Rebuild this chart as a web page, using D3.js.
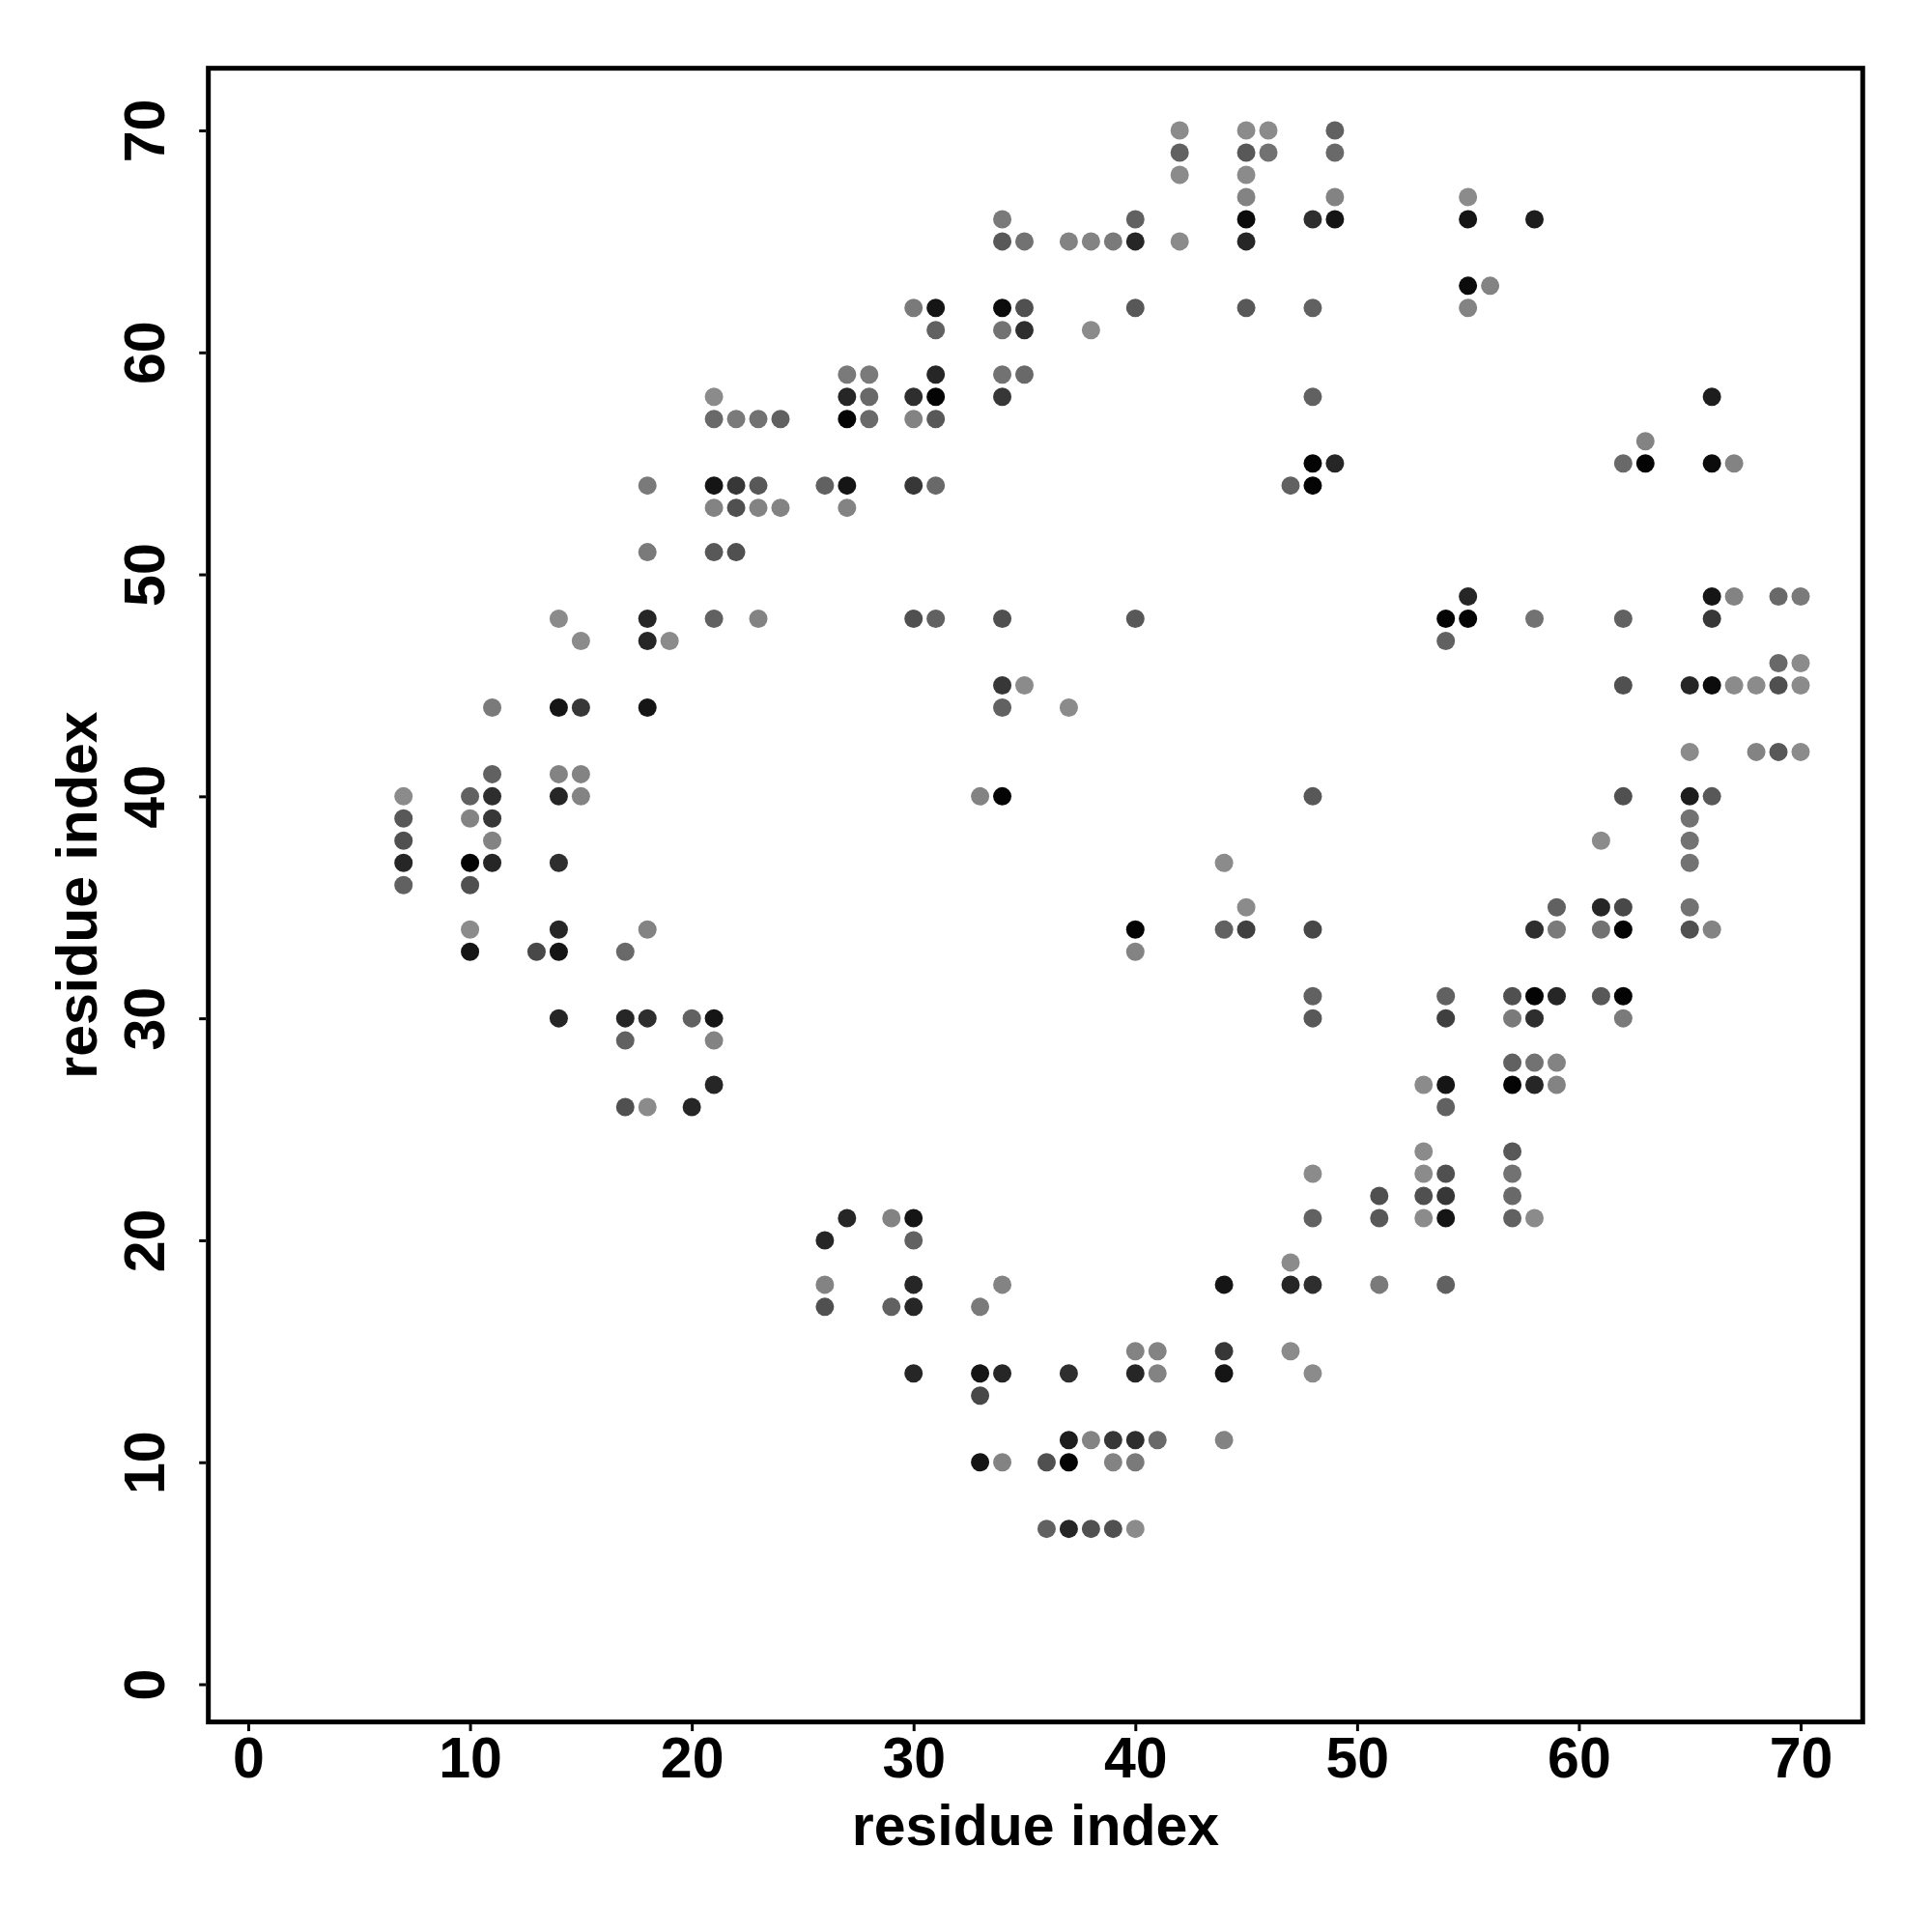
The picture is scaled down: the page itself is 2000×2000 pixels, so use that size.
<!DOCTYPE html>
<html>
<head>
<meta charset="utf-8">
<script src="https://cdn.jsdelivr.net/npm/d3@7"></script>
<style>
  html, body { margin: 0; padding: 0; background: #ffffff; }
  svg { display: block; }
</style>
</head>
<body>
<script>
// ---------------- data ----------------
const xTicks = [0, 10, 20, 30, 40, 50, 60, 70];
const yTicks = [0, 10, 20, 30, 40, 50, 60, 70];
const xTitle = "residue index";
const yTitle = "residue index";

// contact points: residue i, residue j, contact strength (darker = stronger)
const resI = [
  7,7,7,7,7,
  10,10,10,10,10,10,
  11,11,11,11,11,11,
  13,
  14,14,14,14,14,14,14,14,
  15,15,15,15,
  17,17,17,17,
  18,18,18,18,18,18,18,18,
  19,
  20,20,
  21,21,21,21,21,21,21,21,21,
  22,22,22,22,
  23,23,23,23,
  24,24,
  26,26,26,26,
  27,27,27,27,27,27,
  28,28,28,
  29,29,
  30,30,30,30,30,30,30,30,30,30,
  31,31,31,31,31,31,31,
  33,33,33,33,33,
  34,34,34,34,34,34,34,34,34,34,34,34,34,
  35,35,35,35,35,
  36,36,
  37,37,37,37,37,37,
  38,38,38,38,
  39,39,39,39,
  40,40,40,40,40,40,40,40,40,40,40,
  41,41,41,
  42,42,42,42,
  44,44,44,44,44,44,
  45,45,45,45,45,45,45,45,45,
  46,46,
  47,47,47,47,
  48,48,48,48,48,48,48,48,48,48,48,48,48,
  49,49,49,49,49,
  51,51,51,
  53,53,53,53,53,
  54,54,54,54,54,54,54,54,54,54,
  55,55,55,55,55,55,
  56,
  57,57,57,57,57,57,57,57,
  58,58,58,58,58,58,58,58,
  59,59,59,59,59,
  61,61,61,61,
  62,62,62,62,62,62,62,62,
  63,63,
  65,65,65,65,65,65,65,65,
  66,66,66,66,66,66,66,
  67,67,67,
  68,68,
  69,69,69,69,
  70,70,70,70
];
const resJ = [
  40,39,38,37,36,
  40,39,37,36,34,33,
  44,41,40,39,38,37,
  33,
  48,44,41,40,37,34,33,30,
  47,44,41,40,
  33,30,29,26,
  54,51,48,47,44,34,30,26,
  47,
  30,26,
  58,57,54,53,51,48,30,29,27,
  57,54,53,51,
  57,54,53,48,
  57,53,
  54,20,18,17,
  59,58,57,54,53,21,
  59,58,57,
  21,17,
  62,58,57,54,48,21,20,18,17,14,
  62,61,59,58,57,54,48,
  40,17,14,13,10,
  66,65,62,61,59,58,48,45,44,40,18,14,10,
  65,62,61,59,45,
  10,7,
  65,44,14,11,10,7,
  65,61,11,7,
  65,11,10,7,
  66,65,62,48,34,33,15,14,11,10,7,
  15,14,11,
  70,69,68,65,
  37,34,18,15,14,11,
  70,69,68,67,66,65,62,35,34,
  70,69,
  54,19,18,15,
  66,62,58,55,54,40,34,31,30,23,21,18,14,
  70,69,67,66,55,
  22,21,18,
  27,24,23,22,21,
  48,47,31,30,27,26,23,22,21,18,
  67,66,63,62,49,48,
  63,
  31,30,28,27,24,23,22,21,
  66,48,34,31,30,28,27,21,
  35,34,31,28,27,
  38,35,34,31,
  55,48,45,40,35,34,31,30,
  56,55,
  45,42,40,39,38,37,35,34,
  58,55,49,48,45,40,34,
  55,49,45,
  45,42,
  49,46,45,42,
  49,46,45,42
];
const strength = [
  .2,.5,.55,.8,.45,
  .45,.25,1,.55,.2,.9,
  .3,.45,.75,.7,.25,.8,
  .6,
  .2,.9,.25,.8,.75,.8,.9,.8,
  .2,.7,.25,.25,
  .4,.8,.45,.55,
  .3,.3,.8,.8,.9,.25,.75,.2,
  .2,
  .45,.8,
  .2,.4,.9,.25,.5,.45,.9,.25,.8,
  .3,.7,.55,.55,
  .35,.5,.25,.25,
  .45,.25,
  .45,.8,.25,.55,
  .3,.8,1,.9,.25,.8,
  .3,.4,.4,
  .25,.45,
  .3,.75,.25,.7,.55,.9,.45,.8,.8,.8,
  .9,.45,.8,1,.5,.4,.45,
  .25,.3,.9,.6,.9,
  .3,.5,.95,.35,.35,.7,.55,.7,.45,1,.25,.8,.25,
  .35,.55,.75,.4,.2,
  .55,.45,
  .25,.2,.75,.85,1,.8,
  .25,.2,.25,.55,
  .3,.7,.25,.55,
  .45,.8,.5,.5,1,.25,.25,.8,.75,.3,.2,
  .25,.25,.4,
  .2,.45,.2,.2,
  .2,.45,.9,.7,.9,.25,
  .2,.5,.2,.25,.95,.8,.5,.2,.65,
  .2,.35,
  .45,.2,.8,.2,
  .75,.45,.45,1,1,.5,.6,.45,.5,.2,.45,.75,.2,
  .45,.4,.25,.9,.8,
  .55,.5,.3,
  .2,.2,.2,.55,.2,
  1,.45,.45,.65,.9,.45,.55,.7,.9,.45,
  .2,.9,.95,.25,.8,1,
  .25,
  .55,.3,.45,1,.5,.35,.4,.45,
  .85,.35,.75,1,.75,.35,.8,.2,
  .45,.3,.8,.25,.25,
  .2,.8,.35,.5,
  .4,.45,.55,.55,.6,1,1,.3,
  .25,1,
  .8,.2,.85,.35,.35,.35,.35,.55,
  .85,.95,.9,.7,.95,.5,.25,
  .25,.25,.2,
  .2,.25,
  .4,.4,.55,.5,
  .3,.2,.2,.2
];

const points = resI.map((d, k) => ({ i: d, j: resJ[k], s: strength[k] }));

// ---------------- layout ----------------
const W = 2000, H = 2000;
const svg = d3.select("body").append("svg")
  .attr("width", W).attr("height", H)
  .attr("font-family", "'Liberation Sans', Arial, Helvetica, sans-serif")
  .attr("font-weight", "bold");

const x = d3.scaleLinear().domain([0, 70]).range([257, 1864]);
const y = d3.scaleLinear().domain([0, 70]).range([1743.5, 135]);
const xLo = x(-1.8), xHi = x(72.8);
const yLo = y(-1.7), yHi = y(72.8);

const color = d3.scaleLinear().domain([0.2, 1]).range(["#8b8b8b", "#040404"]);

// points
svg.append("g").selectAll("circle")
  .data(points)
  .join("circle")
  .attr("cx", d => x(d.i))
  .attr("cy", d => y(d.j))
  .attr("r", 9.5)
  .attr("fill", d => color(d.s));

// plot box
svg.append("rect")
  .attr("x", xLo).attr("y", yHi)
  .attr("width", xHi - xLo).attr("height", yLo - yHi)
  .attr("fill", "none").attr("stroke", "#000").attr("stroke-width", 5);

// x axis
const gx = svg.append("g")
  .attr("transform", `translate(0,${yLo + 2.5})`)
  .call(d3.axisBottom(x).tickValues(xTicks).tickSize(7).tickSizeOuter(0));
gx.select(".domain").remove();
gx.selectAll(".tick line").attr("stroke", "#000").attr("stroke-width", 3);
gx.selectAll(".tick text")
  .attr("y", 55).attr("dy", null)
  .attr("font-size", 59).attr("font-weight", "bold")
  .attr("font-family", "'Liberation Sans', Arial, sans-serif")
  .attr("fill", "#000");

// y axis
const gy = svg.append("g")
  .attr("transform", `translate(${xLo - 2.5},0)`)
  .call(d3.axisLeft(y).tickValues(yTicks).tickSize(7).tickSizeOuter(0));
gy.select(".domain").remove();
gy.selectAll(".tick line").attr("stroke", "#000").attr("stroke-width", 3);
gy.selectAll(".tick text")
  .attr("x", null).attr("dy", null)
  .attr("transform", "translate(-43,0) rotate(-90)")
  .attr("text-anchor", "middle")
  .attr("font-size", 59).attr("font-weight", "bold")
  .attr("font-family", "'Liberation Sans', Arial, sans-serif")
  .attr("fill", "#000");

// axis titles
svg.append("text")
  .attr("x", (xLo + xHi) / 2).attr("y", 1910)
  .attr("text-anchor", "middle")
  .attr("font-size", 59)
  .text(xTitle);

svg.append("text")
  .attr("transform", `translate(100,${(yLo + yHi) / 2}) rotate(-90)`)
  .attr("text-anchor", "middle")
  .attr("font-size", 59)
  .text(yTitle);
</script>
</body>
</html>
